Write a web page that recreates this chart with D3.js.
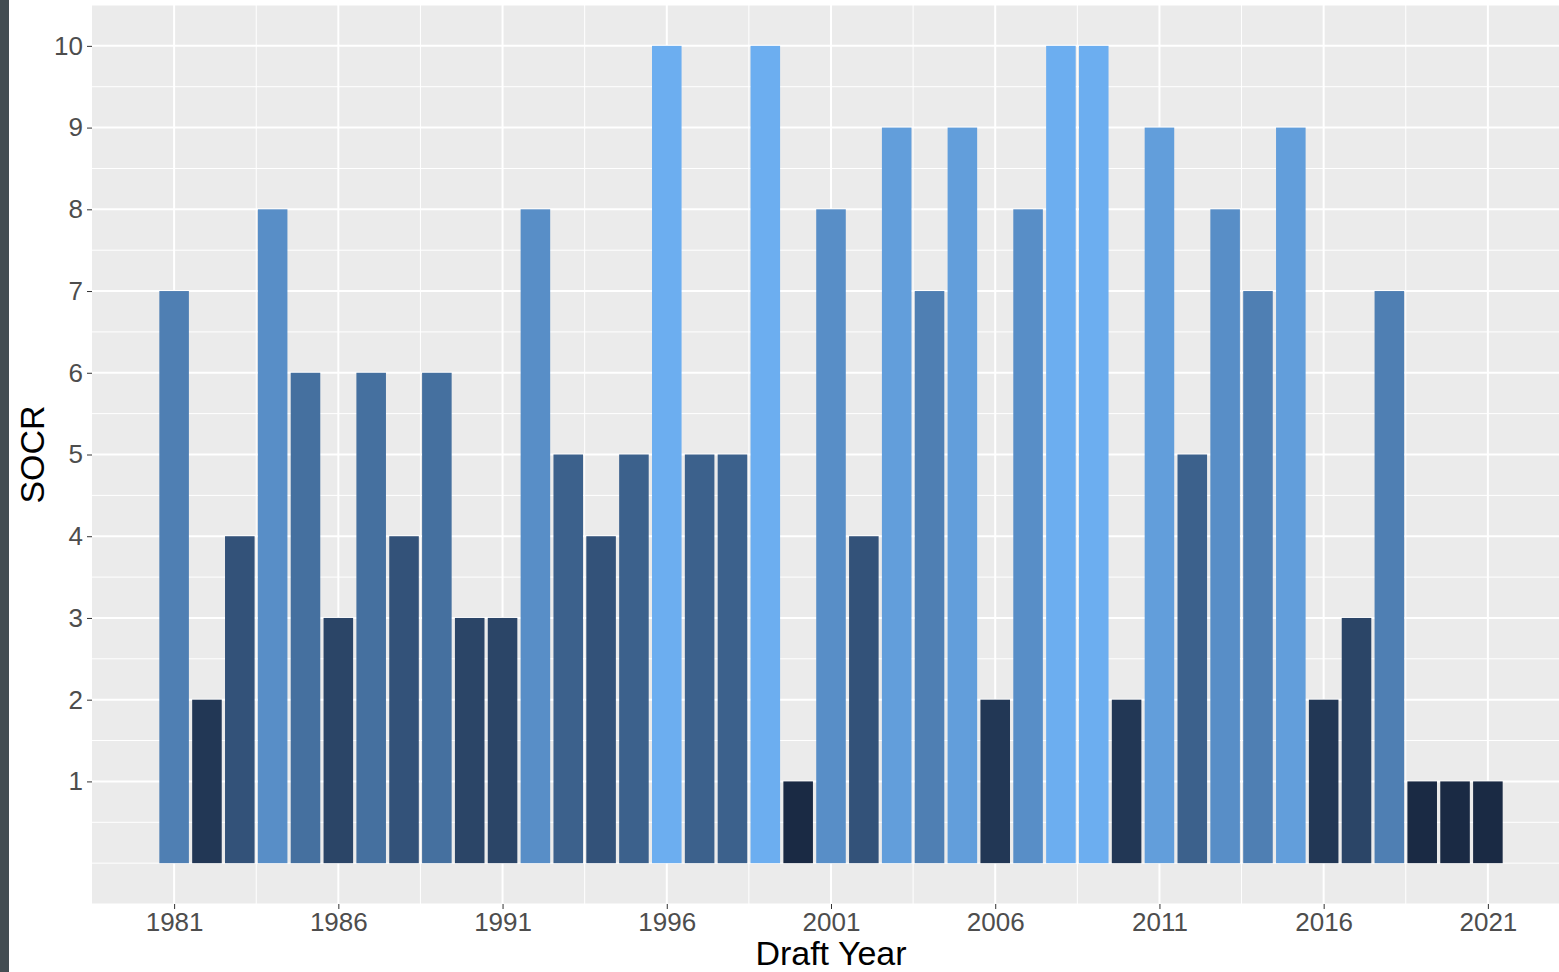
<!DOCTYPE html>
<html>
<head>
    <meta charset="UTF-8">
    <title>SOCR by Draft Year</title>
    <style>
        body { margin: 0; background: #fff; }
        svg { display: block; font-family: "Liberation Sans", Arial, sans-serif; }
        .tick text { fill: #4d4d4d; font-size: 26px; }
        .tick line { stroke: #333; }
        .domain { display: none; }
    </style>
</head>
<body>
    <div id="app"></div>

    <script src="https://d3js.org/d3.v7.min.js"></script>
    <script>
        let years = d3.range(1981, 2022)
        let socr = [7, 2, 4, 8, 6, 3, 6, 4, 6, 3,
                    3, 8, 5, 4, 5, 10, 5, 5, 10, 1,
                    8, 4, 9, 7, 9, 2, 8, 10, 10, 2,
                    9, 5, 8, 7, 9, 2, 3, 7, 1, 1, 1]
        let xTicks = [1981, 1986, 1991, 1996, 2001, 2006, 2011, 2016, 2021]
        let yTicks = [1, 2, 3, 4, 5, 6, 7, 8, 9, 10]

        let data = years.map((y, i) => ({ year: y, value: socr[i] }))

        let W = 1559
        let H = 972
        let pLeft = 92, pTop = 5, pRight = 1570, pBottom = 904

        let svg = d3.select('#app').append('svg')
        .attr('width', W)
        .attr('height', H)

        // dark strip on the left edge
        svg.append('rect').attr('x', 0).attr('y', 0)
        .attr('width', 9).attr('height', H).attr('fill', '#434d52')

        let x = d3.scaleLinear().domain([1978.5, 2023.5]).range([pLeft, pRight])
        let y = d3.scaleLinear().domain([-0.5, 10.5]).range([pBottom, pTop])
        let fill = d3.scaleLinear().domain([1, 10])
        .range(['#1a2a44', '#6caef0']).interpolate(d3.interpolateLab)

        // panel
        svg.append('rect')
        .attr('x', pLeft).attr('y', pTop)
        .attr('width', pRight - pLeft).attr('height', pBottom - pTop)
        .attr('fill', '#ebebeb')

        let grid = svg.append('g')
        let yMinor = d3.range(0, 11, 1).map(d => d - 0.5).concat([0, 10.5])
        let xMinor = d3.range(1983.5, 2020, 5)

        grid.selectAll('.ymin').data(yMinor).enter().append('line')
        .attr('x1', pLeft).attr('x2', pRight)
        .attr('y1', d => y(d)).attr('y2', d => y(d))
        .attr('stroke', '#fff').attr('stroke-width', 1)
        grid.selectAll('.xmin').data(xMinor).enter().append('line')
        .attr('y1', pTop).attr('y2', pBottom)
        .attr('x1', d => x(d)).attr('x2', d => x(d))
        .attr('stroke', '#fff').attr('stroke-width', 1)
        grid.selectAll('.ymaj').data(yTicks).enter().append('line')
        .attr('x1', pLeft).attr('x2', pRight)
        .attr('y1', d => y(d)).attr('y2', d => y(d))
        .attr('stroke', '#fff').attr('stroke-width', 2)
        grid.selectAll('.xmaj').data(xTicks).enter().append('line')
        .attr('y1', pTop).attr('y2', pBottom)
        .attr('x1', d => x(d)).attr('x2', d => x(d))
        .attr('stroke', '#fff').attr('stroke-width', 2)

        let bw = (x(1) - x(0)) * 0.9
        svg.append('g').selectAll('rect')
        .data(data).enter().append('rect')
        .attr('x', d => x(d.year) - bw / 2)
        .attr('width', bw)
        .attr('y', d => y(d.value))
        .attr('height', d => y(0) - y(d.value))
        .attr('fill', d => fill(d.value))

        svg.append('g')
        .attr('transform', 'translate(' + pLeft + ',0)')
        .call(d3.axisLeft(y).tickValues(yTicks).tickSize(5).tickPadding(4))

        svg.append('g')
        .attr('transform', 'translate(0,' + pBottom + ')')
        .call(d3.axisBottom(x).tickValues(xTicks).tickFormat(d3.format('d')).tickSize(5).tickPadding(4))

        svg.append('text')
        .attr('x', x(2001)).attr('y', 965)
        .attr('text-anchor', 'middle')
        .attr('font-size', 34).attr('fill', '#000')
        .text('Draft Year')

        svg.append('text')
        .attr('transform', 'translate(44,' + y(5) + ') rotate(-90)')
        .attr('text-anchor', 'middle')
        .attr('font-size', 34).attr('fill', '#000')
        .text('SOCR')
    </script>
</body>
</html>
